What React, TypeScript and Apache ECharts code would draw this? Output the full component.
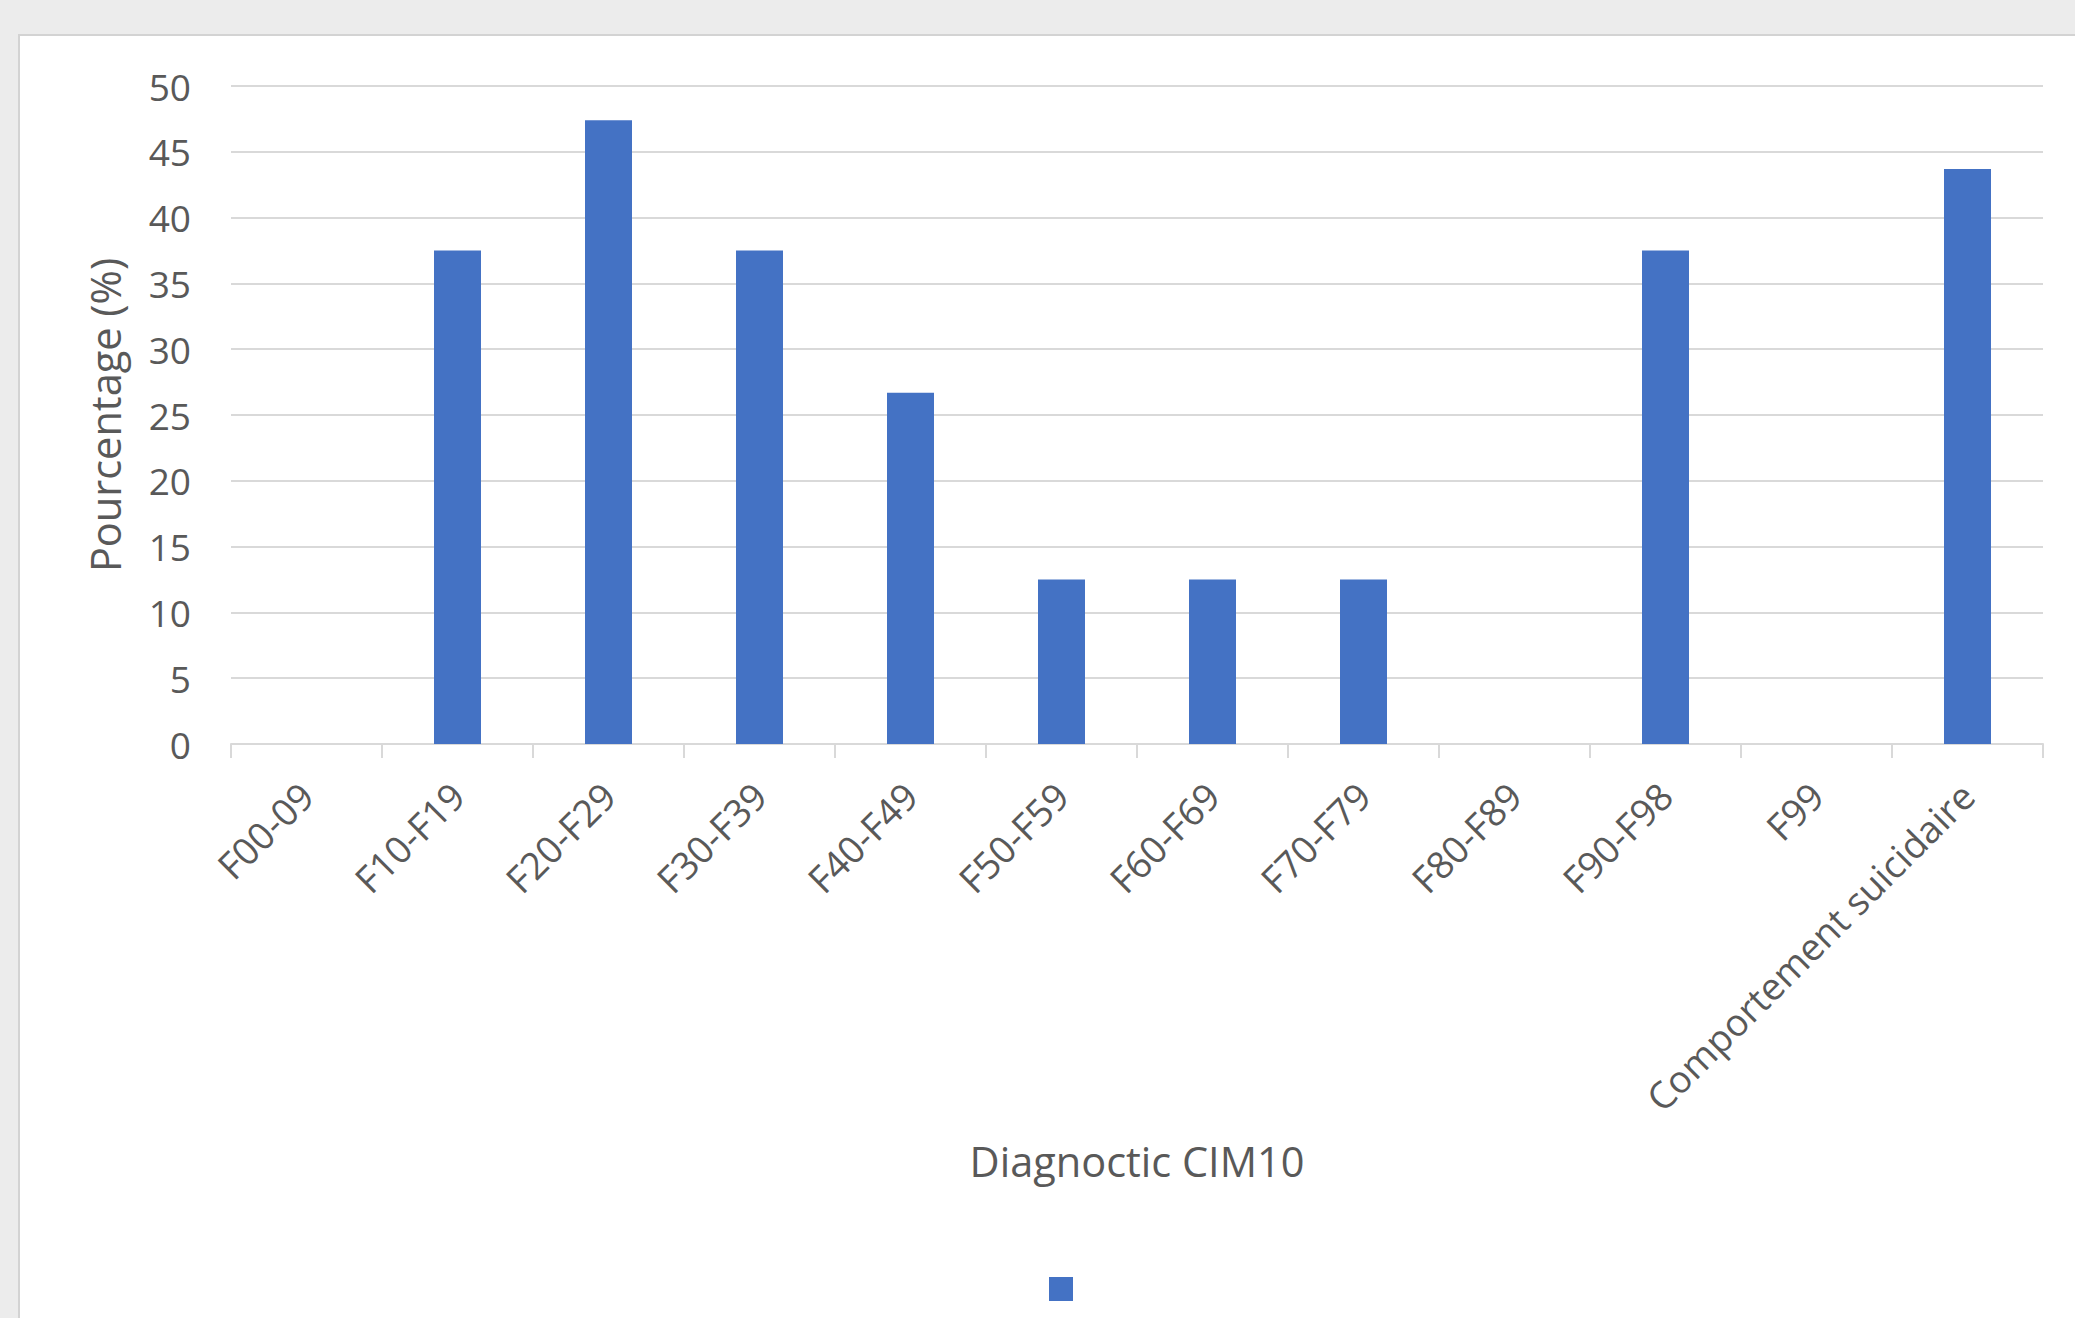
import React, { useEffect, useRef } from "react";
import * as echarts from "echarts";

const categories = [
  "F00-09",
  "F10-F19",
  "F20-F29",
  "F30-F39",
  "F40-F49",
  "F50-F59",
  "F60-F69",
  "F70-F79",
  "F80-F89",
  "F90-F98",
  "F99",
  "Comportement suicidaire",
];
const values = [0, 37.5, 47.4, 37.5, 26.7, 12.5, 12.5, 12.5, 0, 37.5, 0, 43.7];
const yTicks = { min: 0, max: 50, interval: 5 };
const seriesName = " ";

const FONT = "Open Sans";
const TEXT = "#595959";
const GRID = "#d9d9d9";
const BAR = "#4472C4";

export default function App() {
  const ref = useRef<HTMLDivElement>(null);

  useEffect(() => {
    document.body.style.margin = "0";
    if (!ref.current) return;
    const chart = echarts.init(ref.current, null, { renderer: "svg" });
    chart.setOption({
      animation: false,
      backgroundColor: "#ececec",
      textStyle: { fontFamily: FONT },
      graphic: [
        {
          type: "rect",
          z: -10,
          silent: true,
          shape: { x: 19, y: 35, width: 2100, height: 1320 },
          style: { fill: "#ffffff", stroke: "#d3d3d3", lineWidth: 2 },
        },
      ],
      grid: { left: 231, right: 32, top: 86, bottom: 574, containLabel: false },
      legend: {
        data: [seriesName],
        left: 1049,
        top: 1277,
        padding: 0,
        itemWidth: 24,
        itemHeight: 24,
        itemGap: 0,
        icon: "rect",
        textStyle: { fontSize: 2, color: TEXT, fontFamily: FONT },
        selectedMode: false,
      },
      xAxis: {
        type: "category",
        data: categories,
        name: "Diagnoctic CIM10",
        nameLocation: "middle",
        nameGap: 396,
        nameTextStyle: { fontSize: 41.5, color: TEXT, fontFamily: FONT },
        axisLine: { lineStyle: { color: GRID, width: 2 } },
        axisTick: { show: true, length: 14, lineStyle: { color: GRID, width: 2 } },
        axisLabel: {
          interval: 0,
          rotate: 45,
          fontSize: 37.5,
          lineHeight: 40,
          color: TEXT,
          fontFamily: FONT,
          margin: 45,
          verticalAlign: "middle",
        },
      },
      yAxis: {
        type: "value",
        min: yTicks.min,
        max: yTicks.max,
        interval: yTicks.interval,
        name: "Pourcentage (%)",
        nameLocation: "middle",
        nameGap: 105,
        nameTextStyle: { fontSize: 41.5, color: TEXT, fontFamily: FONT },
        axisLine: { show: false },
        axisTick: { show: false },
        axisLabel: { fontSize: 37, color: TEXT, fontFamily: FONT, margin: 40 },
        splitLine: { lineStyle: { color: GRID, width: 2 } },
      },
      series: [
        {
          name: seriesName,
          type: "bar",
          data: values,
          barWidth: 47,
          itemStyle: { color: BAR },
        },
      ],
    });
    return () => chart.dispose();
  }, []);

  return <div ref={ref} style={{ width: 2075, height: 1318 }} />;
}
